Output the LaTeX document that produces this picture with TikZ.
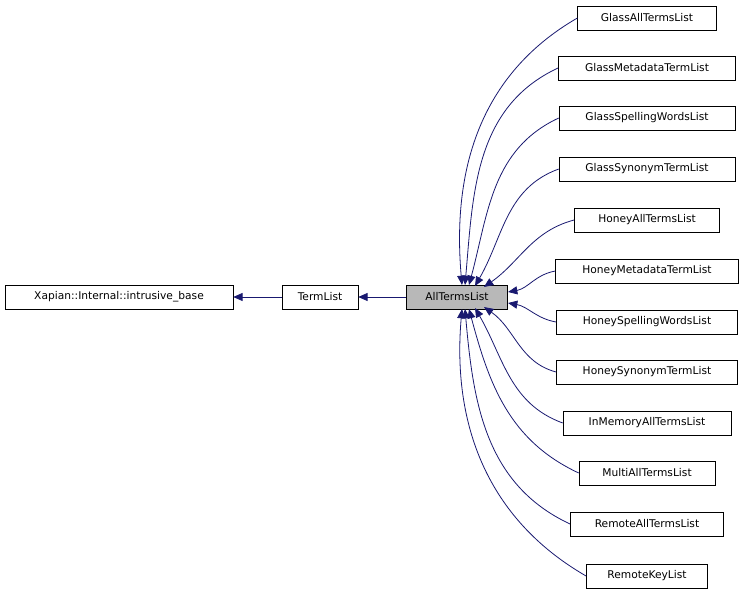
\documentclass[tikz,border=0pt]{standalone}
\usepackage{fontspec}
\setmainfont{DejaVu Sans}
\usetikzlibrary{arrows.meta}
\definecolor{edgeblue}{HTML}{191970}
\tikzset{
	cls/.style={draw=black, fill=white, minimum height=18pt, inner sep=2pt, font=\fontsize{8}{9.5}\selectfont},
	inh/.style={edgeblue, line width=0.6pt, {Triangle[length=7pt,width=6pt]}-},
}
\begin{document}
\begin{tikzpicture}[x=0.75pt, y=-0.75pt]
	\useasboundingbox (0,0) rectangle (743,595);
	\node[cls, minimum width=171pt] (base) at (119,297) {Xapian::Internal::intrusive\_base};
	\node[cls, minimum width=57pt] (tl) at (320,297) {TermList};
	\node[cls, minimum width=76pt, fill=black!28] (atl) at (457,297) {AllTermsList};
	\draw[inh] (base) -- (tl);
	\draw[inh] (tl) -- (atl);
	\foreach \name/\w/\yy/\ex/\ey/\ang/\inn in {
		GlassAllTermsList/104/18/462/285/95/210,
		GlassMetadataTermList/133/68/465/285/85/205,
		GlassSpellingWordsList/132/118/469/285/75/205,
		GlassSynonymTermList/132/169/475/286/60/200,
		HoneyAllTermsList/109/220/484/287/35/195,
		HoneyMetadataTermList/137/271/508/292/10/190,
		HoneySpellingWordsList/136/322/508/303/-10/170,
		HoneySynonymTermList/136/372/484/307/-35/165,
		InMemoryAllTermsList/126/423/475/308/-60/160,
		MultiAllTermsList/102/473/469/309/-75/155,
		RemoteAllTermsList/115/524/465/309/-85/155,
		RemoteKeyList/91/576/462/309/-95/150}{
		\node[cls, minimum width=\w pt] (\name) at (647,\yy) {\name};
		\coordinate (e\name) at (\ex,\ey);
		\draw[inh] (e\name) to[out=\ang, in=\inn] (\name.west);
	}
\end{tikzpicture}
\end{document}
